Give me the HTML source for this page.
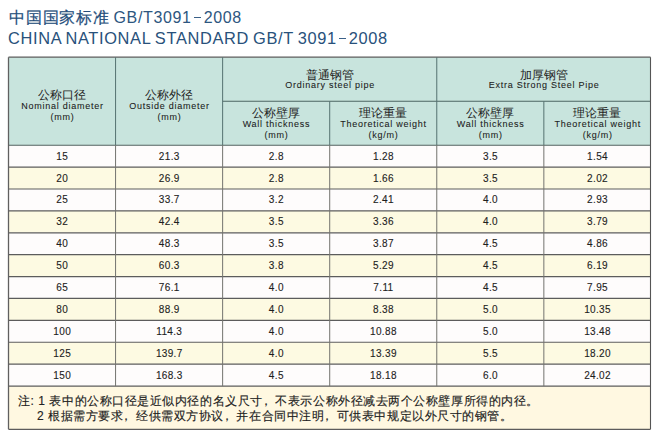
<!DOCTYPE html>
<html><head><meta charset="utf-8"><style>
*{margin:0;padding:0;box-sizing:border-box}
html,body{width:660px;height:441px;overflow:hidden;background:#fff}
body{position:relative;font-family:"Liberation Sans",sans-serif;color:#1c1c1c}
.a{position:absolute;white-space:nowrap}
svg{position:absolute;left:0;top:0}
.t1{left:9px;top:8px;font-size:16px;line-height:20px;color:#2d5680;letter-spacing:0.75px}
.t1 b{font-weight:normal;color:#234d7a;-webkit-text-stroke:0.2px #234d7a}
.t2{left:8px;top:28px;font-size:16.4px;line-height:20px;color:#28517b;letter-spacing:0.66px;word-spacing:-1.2px}
.dash{display:inline-block;height:1.3px;background:#3a6088;vertical-align:middle}
.c{position:absolute;text-align:center;white-space:nowrap}
.zh{font-size:12px;line-height:12px;color:#1e1e1e}
.en{font-size:9px;line-height:11px;letter-spacing:0.75px;padding-left:0.75px;color:#1c1c1c;-webkit-text-stroke:0.08px #1c1c1c}
.d{font-size:10px;line-height:22px;letter-spacing:0.35px;padding-left:0.35px;color:#1e1e1e;-webkit-text-stroke:0.12px #1e1e1e}
.n{font-size:12px;line-height:19px;color:#222;-webkit-text-stroke:0.15px #222}
</style></head><body>
<div class="a t1"><b>中国国家标准</b><span style="letter-spacing:0.65px;margin-left:4px">GB/T3091<span class="dash" style="width:7px;margin:0 3px 0 2px;position:relative;top:-1px"></span>2008</span></div>
<div class="a t2">CHINA NATIONAL STANDARD GB/T 3091<span class="dash" style="width:7px;margin:0 3px 0 2px;position:relative;top:-1.5px"></span>2008</div>
<svg width="660" height="441" viewBox="0 0 660 441">
<rect x="8.5" y="57.2" width="642.0" height="87.99999999999999" fill="#c8e4dd"/>
<rect x="8.5" y="145.20" width="642.0" height="21.896" fill="#fefcfc"/>
<rect x="8.5" y="167.10" width="642.0" height="21.896" fill="#fdfae2"/>
<rect x="8.5" y="188.99" width="642.0" height="21.896" fill="#fefcfc"/>
<rect x="8.5" y="210.89" width="642.0" height="21.896" fill="#fdfae2"/>
<rect x="8.5" y="232.78" width="642.0" height="21.896" fill="#fefcfc"/>
<rect x="8.5" y="254.68" width="642.0" height="21.896" fill="#fdfae2"/>
<rect x="8.5" y="276.58" width="642.0" height="21.896" fill="#fefcfc"/>
<rect x="8.5" y="298.47" width="642.0" height="21.896" fill="#fdfae2"/>
<rect x="8.5" y="320.37" width="642.0" height="21.896" fill="#fefcfc"/>
<rect x="8.5" y="342.26" width="642.0" height="21.896" fill="#fdfae2"/>
<rect x="8.5" y="364.16" width="642.0" height="21.896" fill="#fefcfc"/>
<rect x="8.5" y="386.06" width="642.0" height="43.24" fill="#fff8e1"/>
<line x1="8.50" y1="57.20" x2="650.50" y2="57.20" stroke="#5c5c5c" stroke-width="1.2"/>
<line x1="222.64" y1="101.30" x2="650.50" y2="101.30" stroke="#4d6662" stroke-width="1.1"/>
<line x1="8.50" y1="145.20" x2="650.50" y2="145.20" stroke="#52625f" stroke-width="1.05"/>
<line x1="8.50" y1="167.10" x2="650.50" y2="167.10" stroke="#5c5c5c" stroke-width="1.2"/>
<line x1="8.50" y1="188.99" x2="650.50" y2="188.99" stroke="#5c5c5c" stroke-width="1.2"/>
<line x1="8.50" y1="210.89" x2="650.50" y2="210.89" stroke="#5c5c5c" stroke-width="1.2"/>
<line x1="8.50" y1="232.78" x2="650.50" y2="232.78" stroke="#5c5c5c" stroke-width="1.2"/>
<line x1="8.50" y1="254.68" x2="650.50" y2="254.68" stroke="#5c5c5c" stroke-width="1.2"/>
<line x1="8.50" y1="276.58" x2="650.50" y2="276.58" stroke="#5c5c5c" stroke-width="1.2"/>
<line x1="8.50" y1="298.47" x2="650.50" y2="298.47" stroke="#5c5c5c" stroke-width="1.2"/>
<line x1="8.50" y1="320.37" x2="650.50" y2="320.37" stroke="#5c5c5c" stroke-width="1.2"/>
<line x1="8.50" y1="342.26" x2="650.50" y2="342.26" stroke="#5c5c5c" stroke-width="1.2"/>
<line x1="8.50" y1="364.16" x2="650.50" y2="364.16" stroke="#5c5c5c" stroke-width="1.2"/>
<line x1="8.50" y1="386.06" x2="650.50" y2="386.06" stroke="#5c5c5c" stroke-width="1.2"/>
<line x1="8.50" y1="429.30" x2="650.50" y2="429.30" stroke="#5c5c5c" stroke-width="1.2"/>
<line x1="8.50" y1="57.20" x2="8.50" y2="429.30" stroke="#606060" stroke-width="1.3"/>
<line x1="650.50" y1="57.20" x2="650.50" y2="429.30" stroke="#555" stroke-width="1.1"/>
<line x1="115.57" y1="57.20" x2="115.57" y2="145.20" stroke="#557270" stroke-width="1.0"/>
<line x1="115.57" y1="145.20" x2="115.57" y2="386.06" stroke="#73736e" stroke-width="1.0"/>
<line x1="222.64" y1="57.20" x2="222.64" y2="145.20" stroke="#557270" stroke-width="1.0"/>
<line x1="222.64" y1="145.20" x2="222.64" y2="386.06" stroke="#73736e" stroke-width="1.0"/>
<line x1="436.78" y1="57.20" x2="436.78" y2="145.20" stroke="#557270" stroke-width="1.0"/>
<line x1="436.78" y1="145.20" x2="436.78" y2="386.06" stroke="#73736e" stroke-width="1.0"/>
<line x1="329.71" y1="101.30" x2="329.71" y2="145.20" stroke="#557270" stroke-width="1.0"/>
<line x1="329.71" y1="145.20" x2="329.71" y2="386.06" stroke="#73736e" stroke-width="1.0"/>
<line x1="543.85" y1="101.30" x2="543.85" y2="145.20" stroke="#557270" stroke-width="1.0"/>
<line x1="543.85" y1="145.20" x2="543.85" y2="386.06" stroke="#73736e" stroke-width="1.0"/>
</svg>
<div class="c zh" style="left:8.50px;width:107.07px;top:89.00px">公称口径</div>
<div class="c en" style="left:8.50px;width:107.07px;top:100.50px">Nominal diameter</div>
<div class="c en" style="left:8.50px;width:107.07px;top:111.50px">(mm)</div>
<div class="c zh" style="left:115.57px;width:107.07px;top:89.00px">公称外径</div>
<div class="c en" style="left:115.57px;width:107.07px;top:100.50px">Outside diameter</div>
<div class="c en" style="left:115.57px;width:107.07px;top:111.50px">(mm)</div>
<div class="c zh" style="left:222.64px;width:214.14px;top:68.50px">普通钢管</div>
<div class="c en" style="left:222.64px;width:214.14px;top:80.00px">Ordinary steel pipe</div>
<div class="c zh" style="left:436.78px;width:214.14px;top:68.50px">加厚钢管</div>
<div class="c en" style="left:436.78px;width:214.14px;top:80.00px">Extra Strong Steel Pipe</div>
<div class="c zh" style="left:222.64px;width:107.07px;top:107.00px">公称壁厚</div>
<div class="c en" style="left:222.64px;width:107.07px;top:118.50px">Wall thickness</div>
<div class="c en" style="left:222.64px;width:107.07px;top:129.50px">(mm)</div>
<div class="c zh" style="left:329.71px;width:107.07px;top:107.00px">理论重量</div>
<div class="c en" style="left:329.71px;width:107.07px;top:118.50px">Theoretical weight</div>
<div class="c en" style="left:329.71px;width:107.07px;top:129.50px">(kg/m)</div>
<div class="c zh" style="left:436.78px;width:107.07px;top:107.00px">公称壁厚</div>
<div class="c en" style="left:436.78px;width:107.07px;top:118.50px">Wall thickness</div>
<div class="c en" style="left:436.78px;width:107.07px;top:129.50px">(mm)</div>
<div class="c zh" style="left:543.85px;width:107.07px;top:107.00px">理论重量</div>
<div class="c en" style="left:543.85px;width:107.07px;top:118.50px">Theoretical weight</div>
<div class="c en" style="left:543.85px;width:107.07px;top:129.50px">(kg/m)</div>
<div class="c d" style="left:8.50px;width:107.07px;top:145.70px">15</div>
<div class="c d" style="left:115.57px;width:107.07px;top:145.70px">21.3</div>
<div class="c d" style="left:222.64px;width:107.07px;top:145.70px">2.8</div>
<div class="c d" style="left:329.71px;width:107.07px;top:145.70px">1.28</div>
<div class="c d" style="left:436.78px;width:107.07px;top:145.70px">3.5</div>
<div class="c d" style="left:543.85px;width:107.07px;top:145.70px">1.54</div>
<div class="c d" style="left:8.50px;width:107.07px;top:167.60px">20</div>
<div class="c d" style="left:115.57px;width:107.07px;top:167.60px">26.9</div>
<div class="c d" style="left:222.64px;width:107.07px;top:167.60px">2.8</div>
<div class="c d" style="left:329.71px;width:107.07px;top:167.60px">1.66</div>
<div class="c d" style="left:436.78px;width:107.07px;top:167.60px">3.5</div>
<div class="c d" style="left:543.85px;width:107.07px;top:167.60px">2.02</div>
<div class="c d" style="left:8.50px;width:107.07px;top:189.49px">25</div>
<div class="c d" style="left:115.57px;width:107.07px;top:189.49px">33.7</div>
<div class="c d" style="left:222.64px;width:107.07px;top:189.49px">3.2</div>
<div class="c d" style="left:329.71px;width:107.07px;top:189.49px">2.41</div>
<div class="c d" style="left:436.78px;width:107.07px;top:189.49px">4.0</div>
<div class="c d" style="left:543.85px;width:107.07px;top:189.49px">2.93</div>
<div class="c d" style="left:8.50px;width:107.07px;top:211.39px">32</div>
<div class="c d" style="left:115.57px;width:107.07px;top:211.39px">42.4</div>
<div class="c d" style="left:222.64px;width:107.07px;top:211.39px">3.5</div>
<div class="c d" style="left:329.71px;width:107.07px;top:211.39px">3.36</div>
<div class="c d" style="left:436.78px;width:107.07px;top:211.39px">4.0</div>
<div class="c d" style="left:543.85px;width:107.07px;top:211.39px">3.79</div>
<div class="c d" style="left:8.50px;width:107.07px;top:233.28px">40</div>
<div class="c d" style="left:115.57px;width:107.07px;top:233.28px">48.3</div>
<div class="c d" style="left:222.64px;width:107.07px;top:233.28px">3.5</div>
<div class="c d" style="left:329.71px;width:107.07px;top:233.28px">3.87</div>
<div class="c d" style="left:436.78px;width:107.07px;top:233.28px">4.5</div>
<div class="c d" style="left:543.85px;width:107.07px;top:233.28px">4.86</div>
<div class="c d" style="left:8.50px;width:107.07px;top:255.18px">50</div>
<div class="c d" style="left:115.57px;width:107.07px;top:255.18px">60.3</div>
<div class="c d" style="left:222.64px;width:107.07px;top:255.18px">3.8</div>
<div class="c d" style="left:329.71px;width:107.07px;top:255.18px">5.29</div>
<div class="c d" style="left:436.78px;width:107.07px;top:255.18px">4.5</div>
<div class="c d" style="left:543.85px;width:107.07px;top:255.18px">6.19</div>
<div class="c d" style="left:8.50px;width:107.07px;top:277.08px">65</div>
<div class="c d" style="left:115.57px;width:107.07px;top:277.08px">76.1</div>
<div class="c d" style="left:222.64px;width:107.07px;top:277.08px">4.0</div>
<div class="c d" style="left:329.71px;width:107.07px;top:277.08px">7.11</div>
<div class="c d" style="left:436.78px;width:107.07px;top:277.08px">4.5</div>
<div class="c d" style="left:543.85px;width:107.07px;top:277.08px">7.95</div>
<div class="c d" style="left:8.50px;width:107.07px;top:298.97px">80</div>
<div class="c d" style="left:115.57px;width:107.07px;top:298.97px">88.9</div>
<div class="c d" style="left:222.64px;width:107.07px;top:298.97px">4.0</div>
<div class="c d" style="left:329.71px;width:107.07px;top:298.97px">8.38</div>
<div class="c d" style="left:436.78px;width:107.07px;top:298.97px">5.0</div>
<div class="c d" style="left:543.85px;width:107.07px;top:298.97px">10.35</div>
<div class="c d" style="left:8.50px;width:107.07px;top:320.87px">100</div>
<div class="c d" style="left:115.57px;width:107.07px;top:320.87px">114.3</div>
<div class="c d" style="left:222.64px;width:107.07px;top:320.87px">4.0</div>
<div class="c d" style="left:329.71px;width:107.07px;top:320.87px">10.88</div>
<div class="c d" style="left:436.78px;width:107.07px;top:320.87px">5.0</div>
<div class="c d" style="left:543.85px;width:107.07px;top:320.87px">13.48</div>
<div class="c d" style="left:8.50px;width:107.07px;top:342.76px">125</div>
<div class="c d" style="left:115.57px;width:107.07px;top:342.76px">139.7</div>
<div class="c d" style="left:222.64px;width:107.07px;top:342.76px">4.0</div>
<div class="c d" style="left:329.71px;width:107.07px;top:342.76px">13.39</div>
<div class="c d" style="left:436.78px;width:107.07px;top:342.76px">5.5</div>
<div class="c d" style="left:543.85px;width:107.07px;top:342.76px">18.20</div>
<div class="c d" style="left:8.50px;width:107.07px;top:364.66px">150</div>
<div class="c d" style="left:115.57px;width:107.07px;top:364.66px">168.3</div>
<div class="c d" style="left:222.64px;width:107.07px;top:364.66px">4.5</div>
<div class="c d" style="left:329.71px;width:107.07px;top:364.66px">18.18</div>
<div class="c d" style="left:436.78px;width:107.07px;top:364.66px">6.0</div>
<div class="c d" style="left:543.85px;width:107.07px;top:364.66px">24.02</div>
<div class="a n" style="left:18px;top:391.5px;letter-spacing:0.55px">注: 1 表中的公称口径是近似内径的名义尺寸<span style="position:relative;left:-3px">，</span>不表示公称外径减去两个公称壁厚所得的内径。</div>
<div class="a n" style="left:37px;top:407px;letter-spacing:0.55px">2 根据需方要求<span style="position:relative;left:-3px">，</span>经供需双方协议<span style="position:relative;left:-3px">，</span>并在合同中注明<span style="position:relative;left:-3px">，</span>可供表中规定以外尺寸的钢管。</div>
</body></html>
